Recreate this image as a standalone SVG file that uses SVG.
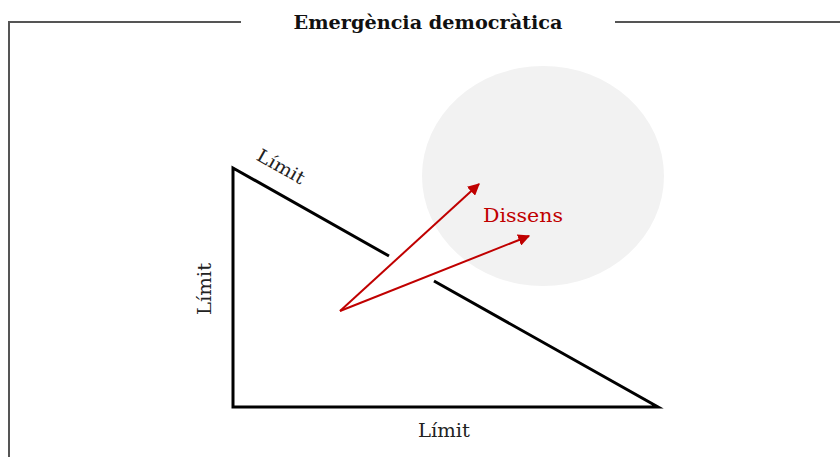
<svg xmlns="http://www.w3.org/2000/svg" width="840" height="457" viewBox="0 0 840 457">
<style>
.frame{fill:none;stroke:#555;stroke-width:2}
.edge{fill:none;stroke:#000;stroke-width:3}
.arrow{fill:none;stroke:#c00000;stroke-width:2}
.lbl{font-family:"DejaVu Serif","Liberation Serif",serif;font-size:18px;fill:#222}
.title{font-family:"DejaVu Serif","Liberation Serif",serif;font-size:19px;font-weight:bold;fill:#111}
</style>
<defs>
<marker id="ah" viewBox="0 0 10 10" refX="9" refY="5" markerWidth="6" markerHeight="6" orient="auto" markerUnits="strokeWidth">
<path d="M0,0 L10,5 L0,10 z" fill="#c00000"/>
</marker>
</defs>
<rect width="840" height="457" fill="#fff"/>
<g id="frame">
<path class="frame" d="M9,457 V22 H241 M615,22 H840"/>
<text class="title" x="428" y="29" text-anchor="middle" textLength="269" lengthAdjust="spacingAndGlyphs">Emergència democràtica</text>
</g>
<g id="dissens-zone">
<ellipse cx="543" cy="176" rx="121" ry="110" fill="#f2f2f2"/>
<text x="523" y="222" text-anchor="middle" font-family="DejaVu Serif, Liberation Serif, serif" font-size="18" fill="#c00000" textLength="80" lengthAdjust="spacingAndGlyphs">Dissens</text>
</g>
<g id="triangle">
<path class="edge" d="M389,256 L233,168 V407 H658 L434,281"/>
<text class="lbl" transform="translate(278,172) rotate(29.4)" text-anchor="middle" textLength="52" lengthAdjust="spacingAndGlyphs">Límit</text>
<text class="lbl" transform="translate(211,289) rotate(-90)" text-anchor="middle" textLength="52" lengthAdjust="spacingAndGlyphs">Límit</text>
<text class="lbl" x="444" y="437" text-anchor="middle" textLength="52" lengthAdjust="spacingAndGlyphs">Límit</text>
</g>
<g id="connectors">
<line class="arrow" x1="340" y1="311" x2="479" y2="184" marker-end="url(#ah)"/>
<line class="arrow" x1="340" y1="311" x2="529" y2="236" marker-end="url(#ah)"/>
</g>
</svg>
